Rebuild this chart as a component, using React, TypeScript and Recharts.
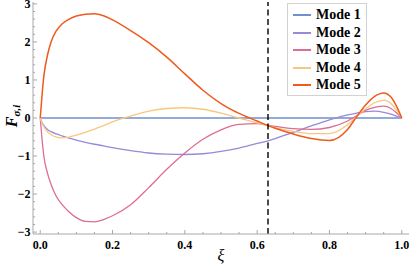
import React from "react";
import { LineChart, Line, XAxis, YAxis, ReferenceLine, Legend, Label } from "recharts";

const xi = [
  0, 0.005, 0.01, 0.02, 0.03, 0.045, 0.06, 0.08, 0.1, 0.125, 0.15, 0.175, 0.2, 0.25, 0.3, 0.35, 0.4,
  0.45, 0.5, 0.55, 0.6, 0.63, 0.65, 0.7, 0.75, 0.8, 0.85, 0.875, 0.9, 0.925, 0.95, 0.97, 0.985, 1.0,
];
const mode1 = [
  0, 0, 0, 0, 0, 0, 0, 0, 0, 0, 0, 0, 0, 0, 0, 0, 0,
  0, 0, 0, 0, 0, 0, 0, 0, 0, 0, 0, 0, 0, 0, 0, 0, 0,
];
const mode2 = [
  0, -0.12, -0.2, -0.3, -0.36, -0.42, -0.47, -0.53, -0.58, -0.64, -0.69, -0.73, -0.78, -0.86, -0.92, -0.95, -0.96,
  -0.94, -0.88, -0.79, -0.67, -0.6, -0.54, -0.38, -0.21, -0.05, 0.08, 0.13, 0.17, 0.18, 0.15, 0.1, 0.05, 0,
];
const mode3 = [
  0, -0.56, -1.0, -1.45, -1.75, -2.07, -2.27, -2.47, -2.62, -2.72, -2.73, -2.67, -2.57, -2.28, -1.83, -1.35, -0.92,
  -0.56, -0.31, -0.17, -0.15, -0.19, -0.22, -0.28, -0.3, -0.25, -0.08, 0.06, 0.2, 0.28, 0.31, 0.25, 0.14, 0,
];
const mode4 = [
  0, -0.14, -0.23, -0.36, -0.44, -0.5, -0.52, -0.5, -0.45, -0.38, -0.29, -0.2, -0.1, 0.05, 0.18, 0.25, 0.27,
  0.23, 0.13, 0, -0.13, -0.2, -0.25, -0.35, -0.41, -0.41, -0.18, 0.04, 0.24, 0.4, 0.47, 0.38, 0.21, 0,
];
const mode5 = [
  0, 0.6, 1.1, 1.65, 2.0, 2.3, 2.47, 2.6, 2.68, 2.73, 2.74, 2.69, 2.58, 2.3, 1.98, 1.6, 1.16,
  0.73, 0.38, 0.12, -0.08, -0.2, -0.27, -0.42, -0.54, -0.59, -0.3, 0.03, 0.34, 0.57, 0.66, 0.55, 0.32, 0,
];

const seriesNames = ["Mode 1", "Mode 2", "Mode 3", "Mode 4", "Mode 5"];
const seriesColors = ["#6f8fcf", "#9b88d6", "#dc6d96", "#f8c77f", "#ef5a1d"];
const markerXi = 0.63;

const xTicks = [
  0, 0.05, 0.1, 0.15, 0.2, 0.25, 0.3, 0.35, 0.4, 0.45, 0.5, 0.55, 0.6, 0.65, 0.7, 0.75, 0.8, 0.85, 0.9, 0.95, 1.0,
];
const yTicks = [
  -3, -2.8, -2.6, -2.4, -2.2, -2, -1.8, -1.6, -1.4, -1.2, -1, -0.8, -0.6, -0.4, -0.2, 0,
  0.2, 0.4, 0.6, 0.8, 1, 1.2, 1.4, 1.6, 1.8, 2, 2.2, 2.4, 2.6, 2.8, 3,
];

const data = xi.map((x, i) => ({
  xi: x,
  m1: mode1[i],
  m2: mode2[i],
  m3: mode3[i],
  m4: mode4[i],
  m5: mode5[i],
}));

const serif = "'Liberation Serif', 'Times New Roman', serif";
const frameColor = "#a8a8a8";

const isMajorX = (v: number) => Math.abs(v * 5 - Math.round(v * 5)) < 1e-6;
const isMajorY = (v: number) => Math.abs(v - Math.round(v)) < 1e-6;
const fmtY = (v: number) => (v < 0 ? "\u2212" + Math.abs(v) : String(v));

const BottomTick = (props: any) => {
  const { x, y, payload } = props;
  const major = isMajorX(payload.value);
  return (
    <g>
      <line x1={x} x2={x} y1={y} y2={y - (major ? 4 : 2)} stroke={frameColor} />
      {major && (
        <text x={x} y={y + 14.5} textAnchor="middle" fontFamily={serif} fontWeight="bold" fontSize={12} fill="#000">
          {payload.value.toFixed(1)}
        </text>
      )}
    </g>
  );
};

const TopTick = (props: any) => {
  const { x, y, payload } = props;
  const major = isMajorX(payload.value);
  return <line x1={x} x2={x} y1={y} y2={y + (major ? 4 : 2)} stroke={frameColor} />;
};

const LeftTick = (props: any) => {
  const { x, y, payload } = props;
  const major = isMajorY(payload.value);
  return (
    <g>
      <line x1={x} x2={x + (major ? 4 : 2)} y1={y} y2={y} stroke={frameColor} />
      {major && (
        <text x={x - 2.5} y={y + 4.3} textAnchor="end" fontFamily={serif} fontWeight="bold" fontSize={12} fill="#000">
          {fmtY(payload.value)}
        </text>
      )}
    </g>
  );
};

const RightTick = (props: any) => {
  const { x, y, payload } = props;
  const major = isMajorY(payload.value);
  return <line x1={x} x2={x - (major ? 4 : 2)} y1={y} y2={y} stroke={frameColor} />;
};

const renderLegend = (props: any) => {
  const items = props.payload || [];
  return (
    <div
      style={{
        width: 80,
        height: 93,
        boxSizing: "border-box",
        background: "#fff",
        border: "1px solid #d2d2d2",
        paddingTop: 2.25,
      }}
    >
      {items.map((it: any) => (
        <div key={it.value} style={{ display: "flex", alignItems: "center", height: 17.5 }}>
          <div
            style={{
              width: 18,
              height: 0,
              flex: "0 0 18px",
              borderTop: `2px solid ${it.color}`,
              marginLeft: 5,
              marginRight: 5,
            }}
          />
          <span style={{ fontFamily: serif, fontWeight: "bold", fontSize: 14, lineHeight: "17.5px", color: "#000" }}>
            {it.value}
          </span>
        </div>
      ))}
    </div>
  );
};

export default function App() {
  const keys = ["m1", "m2", "m3", "m4", "m5"];
  return (
    <div style={{ position: "absolute", left: 0, top: 0, background: "#fff" }}>
      <LineChart width={411} height={270} data={data} margin={{ top: 2, right: 2, bottom: 0, left: 0 }}>
        <XAxis
          xAxisId="top"
          orientation="top"
          dataKey="xi"
          type="number"
          domain={[-0.02, 1.02]}
          allowDataOverflow
          ticks={xTicks}
          interval={0}
          height={0}
          tickSize={0}
          tickMargin={0}
          tickLine={false}
          tick={<TopTick />}
          axisLine={{ stroke: frameColor }}
        />
        <XAxis
          dataKey="xi"
          type="number"
          domain={[-0.02, 1.02]}
          allowDataOverflow
          ticks={xTicks}
          interval={0}
          height={36}
          tickSize={0}
          tickMargin={0}
          tickLine={false}
          tick={<BottomTick />}
          axisLine={{ stroke: frameColor }}
        >
          <Label
            content={(p: any) => {
              const vb = p.viewBox || { x: 33, y: 234, width: 376 };
              return (
                <text
                  x={vb.x + vb.width / 2}
                  y={vb.y + 27}
                  textAnchor="middle"
                  fontFamily={serif}
                  fontStyle="italic"
                  fontSize={16}
                  fill="#000"
                >
                  ξ
                </text>
              );
            }}
          />
        </XAxis>
        <YAxis
          type="number"
          domain={[-3.05, 3.05]}
          allowDataOverflow
          ticks={yTicks}
          interval={0}
          width={33}
          tickSize={0}
          tickMargin={0}
          tickLine={false}
          tick={<LeftTick />}
          axisLine={{ stroke: frameColor }}
        >
          <Label
            content={(p: any) => {
              const vb = p.viewBox || { x: 0, y: 2, width: 33, height: 232 };
              const cy = vb.y + vb.height / 2 - 2;
              return (
                <text
                  x={17}
                  y={cy}
                  transform={`rotate(-90, 17, ${cy})`}
                  textAnchor="middle"
                  fontFamily={serif}
                  fontStyle="italic"
                  fontWeight="bold"
                  fontSize={16}
                  fill="#000"
                >
                  F
                  <tspan fontSize={11} dy={3}>
                    σ,i
                  </tspan>
                </text>
              );
            }}
          />
        </YAxis>
        <YAxis
          yAxisId="right"
          orientation="right"
          type="number"
          domain={[-3.05, 3.05]}
          allowDataOverflow
          ticks={yTicks}
          interval={0}
          width={0}
          tickSize={0}
          tickMargin={0}
          tickLine={false}
          tick={<RightTick />}
          axisLine={{ stroke: frameColor }}
        />
        {keys.map((k, i) => (
          <Line
            key={k}
            dataKey={k}
            name={seriesNames[i]}
            type="monotone"
            stroke={seriesColors[i]}
            strokeWidth={i === 4 ? 1.5 : 1.3}
            dot={false}
            activeDot={false}
            isAnimationActive={false}
          />
        ))}
        <ReferenceLine x={markerXi} stroke="#000" strokeWidth={1.4} strokeDasharray="6 3.5" />
        <Legend
          layout="vertical"
          align="center"
          verticalAlign="middle"
          wrapperStyle={{ left: 287, top: 3, width: 80, height: 93 }}
          content={renderLegend}
        />
      </LineChart>
    </div>
  );
}
